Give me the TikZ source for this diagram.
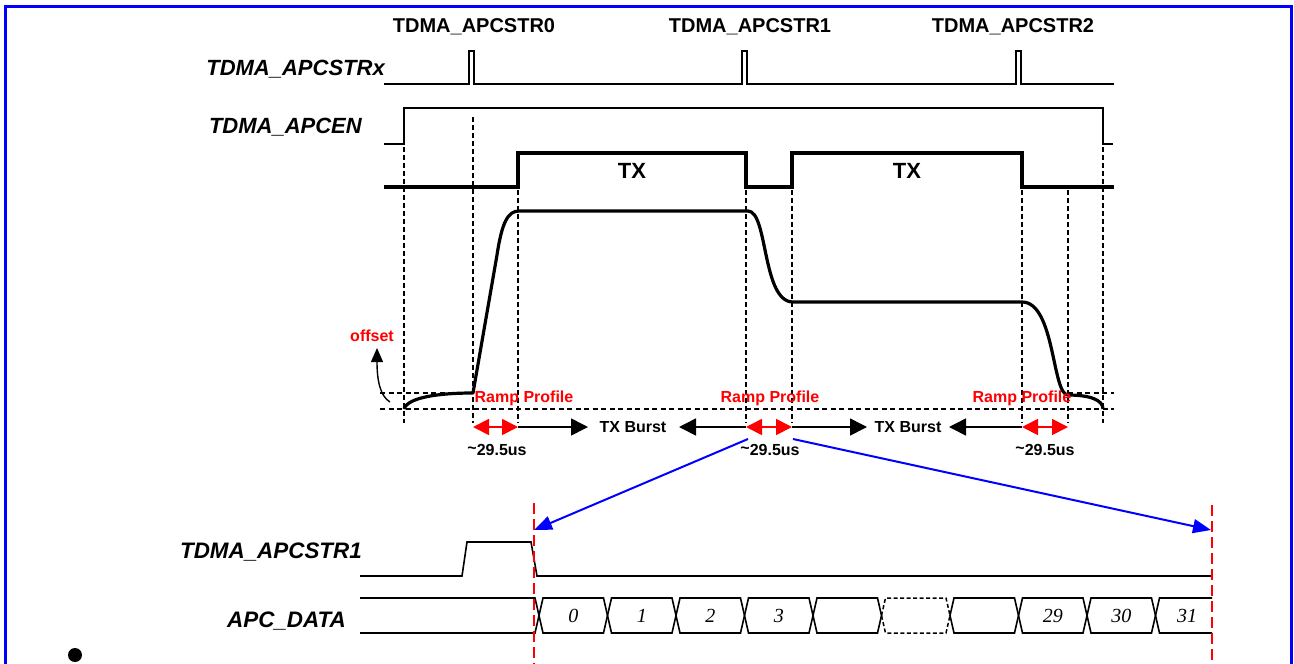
\documentclass[tikz,border=0pt]{standalone}
\usepackage{fontspec}
\setmainfont{Liberation Sans}
\newfontfamily\digitfont{Liberation Serif}
\usetikzlibrary{arrows.meta}
\begin{document}
\begin{tikzpicture}[x=1pt,y=-1pt,
  sig/.style={line width=1.6pt, line join=miter},
  heavy/.style={line width=3.2pt, line join=round},
  vdash/.style={line width=1.2pt, dash pattern=on 5pt off 3pt},
  hdash/.style={line width=1.2pt, dash pattern=on 5pt off 3.5pt},
  reddash/.style={red, line width=1.6pt, dash pattern=on 11pt off 5pt},
  toplab/.style={font=\bfseries\fontsize{20}{24}\selectfont, inner sep=0pt},
  siglab/.style={font=\bfseries\itshape\fontsize{22}{26}\selectfont, inner sep=0pt, anchor=east},
  txlab/.style={font=\bfseries\fontsize{22}{26}\selectfont, inner sep=0pt},
  redlab/.style={text=red, font=\bfseries\fontsize{16}{19}\selectfont, inner sep=0pt},
  blklab/.style={font=\bfseries\fontsize{16}{19}\selectfont, inner sep=0pt},
  numlab/.style={font=\digitfont\itshape\fontsize{20}{24}\selectfont, inner sep=0pt},
  redarr/.style={red, line width=1.8pt, {Triangle[length=16pt,width=16pt]}-{Triangle[length=16pt,width=16pt]}},
  blkarr/.style={line width=1.6pt, -{Triangle[length=17pt,width=17pt]}},
  bluearr/.style={blue, line width=2pt, -{Triangle[length=18pt,width=14pt]}},
  bus/.style={line width=1.6pt, line join=miter},
  busdash/.style={line width=1.5pt, dash pattern=on 4pt off 2.5pt}
]
\useasboundingbox (0,0) rectangle (1294,664);
% frame (open at the bottom)
\draw[blue, line width=3pt] (5,670) -- (5,6) -- (1291,6) -- (1291,670);

% ---------- top labels ----------
\node[toplab] (s0) at (474,27) {TDMA\_APCSTR0};
\node[toplab] (s1) at (750,27) {TDMA\_APCSTR1};
\node[toplab] (s2) at (1013,27) {TDMA\_APCSTR2};
\node[siglab] (lx) at (385,69) {TDMA\_APCSTRx};
\node[siglab] (len) at (362,127) {TDMA\_APCEN};

% ---------- TDMA_APCSTRx ----------
\draw[sig] (384,84) -- (469,84) -- (469,51) -- (474,51) -- (474,84)
  -- (742,84) -- (742,51) -- (747,51) -- (747,84)
  -- (1016,84) -- (1016,51) -- (1021,51) -- (1021,84) -- (1114,84);

% ---------- TDMA_APCEN ----------
\draw[sig] (384,144) -- (404,144) -- (404,108) -- (1103,108) -- (1103,144) -- (1113,144);

% ---------- TX ----------
\draw[heavy, line join=miter] (384,187) -- (518,187) -- (518,153) -- (746,153) -- (746,187)
  -- (792,187) -- (792,153) -- (1022,153) -- (1022,187) -- (1114,187);
\node[txlab] (tx1) at (632,171) {TX};
\node[txlab] (tx2) at (907,171) {TX};

% ---------- dashed guides ----------
\draw[vdash] (404,147) -- (404,423);
\draw[vdash] (473,117) -- (473,423);
\draw[vdash] (518,190) -- (518,423);
\draw[vdash] (746,190) -- (746,423);
\draw[vdash] (792,190) -- (792,423);
\draw[vdash] (1022,190) -- (1022,423);
\draw[vdash] (1068,190) -- (1068,423);
\draw[vdash] (1103,147) -- (1103,423);
\draw[hdash] (380,393) -- (473,393);
\draw[hdash] (1068,393) -- (1114,393);
\draw[hdash] (380,409) -- (1114,409);

% ---------- output power profile ----------
\draw[heavy] (404,409) .. controls (408,397) and (440,393) .. (473,393)
  -- (497,255) .. controls (502,222) and (508,211) .. (519,211)
  -- (748,211) .. controls (768,211) and (762,302) .. (793,302)
  -- (1022,302) .. controls (1055,302) and (1052,395) .. (1068,395)
  .. controls (1090,395) and (1103,400) .. (1103,409);

% offset
\node[redlab] (off) at (372,336) {offset};
\coordinate (offtail) at (390,402);
\coordinate (offtip) at (377,348);
\draw[line width=1.4pt, -{Triangle[length=14pt,width=12pt]}] (offtail) .. controls (380,396) and (377,380) .. (offtip);

% ramp profile labels
\node[redlab] (rp1) at (524,398) {Ramp Profile};
\node[redlab] (rp2) at (770,398) {Ramp Profile};
\node[redlab] (rp3) at (1022,398) {Ramp Profile};

% arrows row
\coordinate (a1) at (473,427); \coordinate (a2) at (518,427);
\coordinate (a3) at (746,427); \coordinate (a4) at (792,427);
\coordinate (a5) at (1022,427); \coordinate (a6) at (1068,427);
\node[blklab] (tb1) at (633,427) {TX Burst};
\node[blklab] (tb2) at (908,427) {TX Burst};
\draw[redarr] (a1) -- (a2);
\draw[redarr] (a3) -- (a4);
\draw[redarr] (a5) -- (a6);
\draw[blkarr] (a2) -- (588,427);
\draw[blkarr] (a3) -- (679,427);
\draw[blkarr] (a4) -- (867,427);
\draw[blkarr] (a5) -- (949,427);
\node[blklab] (d1) at (497,450) {\raisebox{0.2ex}{\char"007E}29.5us};
\node[blklab] (d2) at (770,450) {\raisebox{0.2ex}{\char"007E}29.5us};
\node[blklab] (d3) at (1045,450) {\raisebox{0.2ex}{\char"007E}29.5us};

% ---------- zoom arrows ----------
\coordinate (z1s) at (748,439); \coordinate (z1e) at (534,530);
\coordinate (z2s) at (793,439); \coordinate (z2e) at (1211,530);
\draw[bluearr] (z1s) -- (z1e);
\draw[bluearr] (z2s) -- (z2e);

% ---------- lower timing ----------
\node[siglab, font=\bfseries\itshape\fontsize{22.4}{26}\selectfont] (l1) at (362,552) {TDMA\_APCSTR1};
\node[siglab, font=\bfseries\itshape\fontsize{22.4}{26}\selectfont] (l2) at (346,621) {APC\_DATA};

\draw[bus] (360,576) -- (462,576) -- (467,542) -- (531,542) -- (537,576) -- (1212,576);

% bus before first word
\draw[bus] (360,598) -- (535,598) -- (539,615.5) -- (535,633) -- (360,633);
% words
\foreach \k/\lab in {0/0,1/1,2/2,3/3,4/{},6/{},7/29,8/30}{
  \pgfmathsetmacro{\a}{539+68.5*\k}
  \pgfmathsetmacro{\b}{539+68.5*(\k+1)}
  \draw[bus] (\a,615.5) -- (\a+4,598) -- (\b-4,598) -- (\b,615.5) -- (\b-4,633) -- (\a+4,633) -- cycle;
  \node[numlab] at ({(\a+\b)/2},616) {\lab};
}
\draw[busdash] (881.5,615.5) -- (885.5,598) -- (946,598) -- (950,615.5) -- (946,633) -- (885.5,633) -- cycle;
\draw[bus] (1212,598) -- (1159.5,598) -- (1155.5,615.5) -- (1159.5,633) -- (1212,633);
\node[numlab] (n31) at (1187,616) {31};

\draw[reddash] (534,503) -- (534,664);
\draw[reddash] (1212,505) -- (1212,664);

% bullet
\fill (75,655) circle (7);
\end{tikzpicture}
\end{document}
